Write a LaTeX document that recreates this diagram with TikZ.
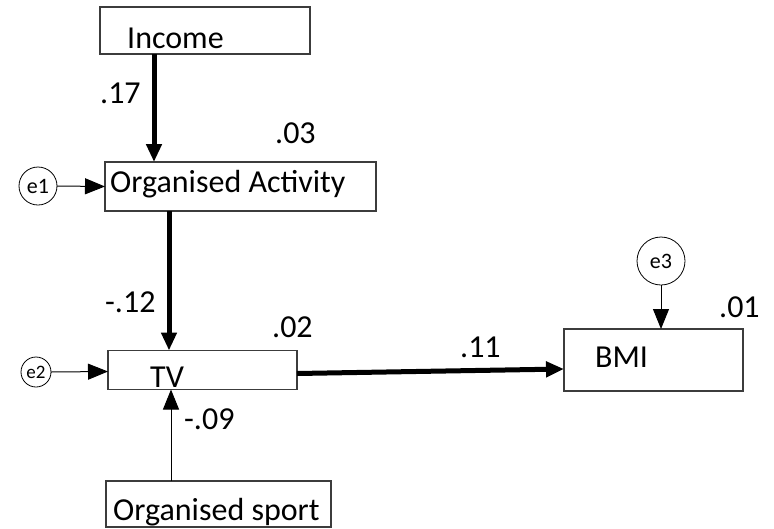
\documentclass[tikz,border=0pt]{standalone}
\usepackage{fontspec}
\setmainfont{Carlito}
\usetikzlibrary{arrows.meta}
\definecolor{frame}{HTML}{3C3C3C}
\tikzset{
  box/.style={draw=frame, line width=1.2pt, rectangle, inner sep=0pt, outer sep=0pt, anchor=north west},
  txt/.style={inner sep=0pt, anchor=base west, font=\fontsize{32}{38}\selectfont},
  errc/.style={draw=black, line width=0.8pt, circle, inner sep=0pt, outer sep=0pt},
  strong/.style={line width=5pt, -{Triangle[length=18pt,width=15pt]}},
  weak/.style={line width=1pt, -{Triangle[length=20pt,width=16pt]}}
}
\begin{document}
\begin{tikzpicture}[x=1pt,y=-1pt]
\useasboundingbox (0,0) rectangle (774,528);

% variable boxes
\node[box, minimum width=210, minimum height=47] (inc) at (100,7) {};
\node[box, minimum width=271, minimum height=49] (oa) at (105,162) {};
\node[box, minimum width=189, minimum height=39] (tv) at (108,350.5) {};
\node[box, minimum width=225, minimum height=46] (os) at (106,481) {};
\node[box, minimum width=179, minimum height=62] (bmi) at (564,329) {};

% box texts
\node[txt] (tinc) at (127,48) {Income};
\node[txt] (toa) at (110,192) {Organised Activity};
\node[txt] (ttv) at (150,387) {TV};
\node[txt] (tos) at (113,520) {Organised sport};
\node[txt] (tbmi) at (595,367) {BMI};

% error terms
\node[errc, minimum size=38, font=\fontsize{22}{26}\selectfont] (e1) at (38,186) {e1};
\node[errc, minimum size=30, font=\fontsize{19}{23}\selectfont] (e2) at (36,372) {e2};
\node[errc, minimum size=48, font=\fontsize{22}{26}\selectfont] (e3) at (661,261) {e3};

% path coefficients and R-squared values
\node[txt] (c17) at (100,103) {.17};
\node[txt] (r03) at (275,143) {.03};
\node[txt] (c12) at (105,312) {-.12};
\node[txt] (r02) at (272,337) {.02};
\node[txt] (c09) at (184,429) {-.09};
\node[txt] (c11) at (460,357) {.11};
\node[txt] (r01) at (719,317) {.01};

% structural paths
\draw[strong] ([xshift=54pt]inc.south west) -- ([xshift=49pt]oa.north west);
\draw[strong] ([xshift=64pt]oa.south west) -- ([xshift=61pt]tv.north west);
\draw[strong] ([yshift=-3.5pt]tv.east) -- ([yshift=-9pt]bmi.west);
\draw[weak] ([xshift=65pt]os.north west) -- ([xshift=63pt]tv.south west);

% error paths
\draw[weak] (e1.east) -- (oa.west);
\draw[weak] (e2.east) -- ([yshift=-1.5pt]tv.west);
\draw[weak] (e3.south) -- (bmi.north -| e3.south);
\end{tikzpicture}
\end{document}
